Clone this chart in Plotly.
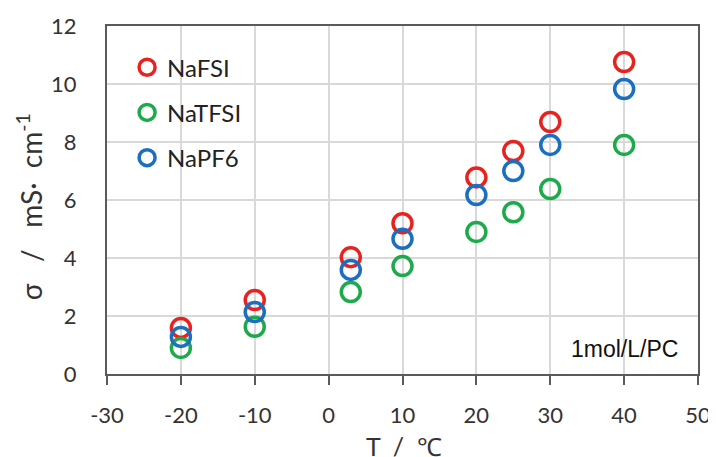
import plotly.graph_objects as go

T = [-20, -10, 3, 10, 20, 25, 30, 40]
nafsi = [1.59, 2.55, 4.03, 5.2, 6.78, 7.69, 8.69, 10.76]
natfsi = [0.9, 1.63, 2.83, 3.72, 4.9, 5.58, 6.38, 7.9]
napf6 = [1.28, 2.14, 3.59, 4.66, 6.17, 7.0, 7.9, 9.83]

x_ticks = [-30, -20, -10, 0, 10, 20, 30, 40, 50]
x_ticktext = ["-30", "-20", "-10", "0", "10", "20", "30", "40", "50"]
y_ticks = [0, 2, 4, 6, 8, 10, 12]

series = [
    ("NaFSI", nafsi, "#E8231F"),
    ("NaTFSI", natfsi, "#1DAA4A"),
    ("NaPF6", napf6, "#1B6FBF"),
]

FONT = "Lato"
fig = go.Figure()
for name, vals, col in series:
    fig.add_trace(go.Scatter(
        x=T, y=vals, mode="markers", name=name, legendgroup=name,
        marker=dict(symbol="circle-open", size=19, color=col, line=dict(width=3.5, color=col)),
    ))

fig.add_annotation(x=0.97, y=0.03, xref="paper", yref="paper", text="1mol/L/PC",
                   showarrow=False, xanchor="right", yanchor="bottom",
                   font=dict(family="Liberation Sans", size=23, color="#111"))
# axis titles
fig.add_annotation(x=0.502, y=-0.157, xref="paper", yref="paper", text="T  /  ℃",
                   showarrow=False, xanchor="center", yanchor="top",
                   font=dict(family=FONT, size=25, color="#333"))
fig.add_annotation(x=-0.13, y=0.48, xref="paper", yref="paper", text="σ   /   mS·  cm<sup>-1</sup>",
                   showarrow=False, xanchor="center", yanchor="middle", textangle=-90,
                   font=dict(family=FONT, size=28, color="#333"))

axis_common = dict(
    showline=True, linecolor="#5a5a5a", linewidth=2, mirror=True,
    showgrid=True, gridcolor="#d9d9d9", gridwidth=2, zeroline=False, automargin=False,
    tickfont=dict(family=FONT, size=22, color="#333"),
)
fig.update_xaxes(range=[-30, 50], tickvals=x_ticks, ticktext=x_ticktext, ticks="outside", ticklen=9,
                 tickcolor="#5a5a5a", tickwidth=1.5, ticklabelstandoff=12, **axis_common)
fig.update_yaxes(range=[0, 12], tickvals=y_ticks, ticks="outside", ticklen=24,
                 tickcolor="rgba(0,0,0,0)", **axis_common)

fig.update_layout(
    width=716, height=457,
    margin=dict(l=99, r=26, t=18, b=91, autoexpand=False),
    paper_bgcolor="white", plot_bgcolor="white",
    showlegend=True,
    legend=dict(x=0.034, y=0.945, xanchor="left", yanchor="top", bgcolor="rgba(0,0,0,0)",
                font=dict(family=FONT, size=24, color="#222"), tracegroupgap=11),
)
fig.write_html("out.html")
